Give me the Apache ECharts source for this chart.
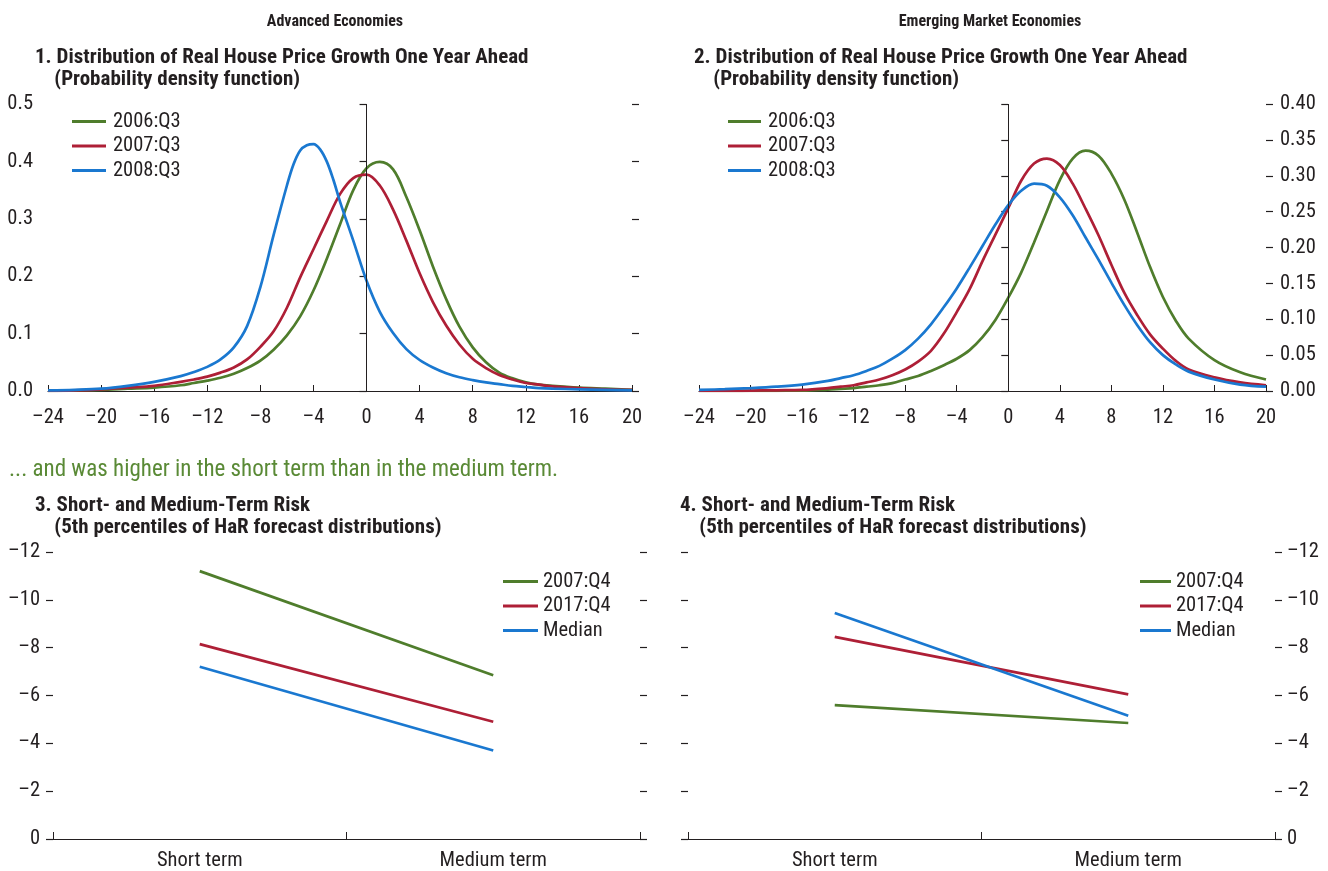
<!DOCTYPE html>
<html><head><meta charset="utf-8">
<script src="https://cdn.jsdelivr.net/npm/echarts@6/dist/echarts.min.js"></script>
<style>html,body{margin:0;padding:0;background:#fff}#c{width:1328px;height:871px}</style>
</head><body><div id="c"></div>
<script>
// ---------- DATA ----------
// Panel 1: Advanced Economies, PDF of real house price growth one year ahead
const aeX = [-24,-22,-20,-18,-16,-14,-13,-12,-11,-10,-9,-8,-7,-6,-5,-4,-3,-2,-1,0,1,2,3,4,5,6,7,8,9,10,11,12,13,14,16,18,20];
const ae2006 = [0,0.001,0.002,0.004,0.006,0.010,0.014,0.018,0.023,0.030,0.040,0.053,0.072,0.097,0.130,0.175,0.230,0.290,0.350,0.388,0.399,0.386,0.338,0.280,0.217,0.160,0.112,0.076,0.050,0.032,0.022,0.015,0.011,0.009,0.006,0.004,0.002];
const ae2007 = [0,0.001,0.003,0.006,0.009,0.016,0.020,0.025,0.032,0.041,0.055,0.077,0.104,0.145,0.198,0.247,0.296,0.343,0.371,0.377,0.358,0.316,0.262,0.205,0.155,0.114,0.081,0.056,0.040,0.028,0.020,0.014,0.011,0.008,0.005,0.003,0.002];
const ae2008X = [-24,-22,-20,-18,-16,-14,-13,-12,-11,-10,-9,-8,-7,-6,-5.5,-5,-4.5,-4,-3.5,-3,-2.5,-2,-1,0,1,2,3,4,5,6,7,8,9,10,11,12,13,14,16,18,20];
const ae2008 = [0.001,0.002,0.004,0.009,0.016,0.026,0.033,0.042,0.055,0.076,0.113,0.181,0.272,0.358,0.395,0.419,0.428,0.430,0.421,0.400,0.368,0.330,0.262,0.192,0.138,0.101,0.073,0.054,0.041,0.031,0.024,0.019,0.015,0.012,0.009,0.007,0.005,0.004,0.003,0.002,0.001];

// Panel 2: Emerging Market Economies
const emX = [-24,-22,-20,-18,-16,-14,-13,-12,-11,-10,-9,-8,-7,-6,-5,-4,-3,-2,-1,0,1,2,3,4,5,6,7,8,9,10,11,12,13,14,16,18,20];
const em2006 = [0,0,0,0.0003,0.0005,0.002,0.003,0.004,0.006,0.008,0.011,0.016,0.021,0.028,0.036,0.045,0.057,0.075,0.099,0.130,0.165,0.207,0.251,0.294,0.324,0.335,0.328,0.303,0.267,0.221,0.173,0.131,0.098,0.073,0.043,0.026,0.016];
const em2007 = [0,0,0.0005,0.001,0.0015,0.004,0.006,0.008,0.012,0.016,0.022,0.030,0.041,0.056,0.080,0.110,0.142,0.181,0.218,0.255,0.293,0.317,0.324,0.315,0.289,0.254,0.217,0.176,0.137,0.106,0.079,0.059,0.042,0.030,0.019,0.012,0.008];
const em2008 = [0.0015,0.0025,0.004,0.006,0.009,0.014,0.018,0.022,0.028,0.035,0.045,0.057,0.073,0.093,0.117,0.143,0.172,0.202,0.232,0.259,0.279,0.289,0.286,0.270,0.245,0.214,0.183,0.151,0.120,0.092,0.068,0.050,0.037,0.027,0.016,0.009,0.006];

// Panels 3 & 4: 5th percentiles of HaR forecast distributions
const horizons = ['Short term', 'Medium term'];
const ae07Q4 = [-11.2, -6.85];
const ae17Q4 = [-8.15, -4.9];
const aeMedian = [-7.2, -3.7];
const em07Q4 = [-5.6, -4.85];
const em17Q4 = [-8.45, -6.05];
const emMedian = [-9.45, -5.15];

const densityNames = ['2006:Q3', '2007:Q3', '2008:Q3'];
const riskNames = ['2007:Q4', '2017:Q4', 'Median'];

// ---------- STYLE ----------
const FONT = "'Liberation Sans Narrow','Arial Narrow','Roboto Condensed','Liberation Sans',sans-serif";
const GREEN = '#4f7d2c', RED = '#ae1f36', BLUE = '#1a78d0', INK = '#231f20';
const LBL = 20.5;
const dash = v => String(v).replace('-', '\u2013');
const pairs = (xs, ys) => xs.map((x, i) => [x, ys[i]]);

function xValAxis(gi) {
  return {
    type: 'value', gridIndex: gi, min: -24, max: 20, interval: 4,
    axisLine: { show: true, lineStyle: { color: INK, width: 1.2 } },
    axisTick: { show: true, inside: true, length: 6, lineStyle: { color: INK } },
    axisLabel: { fontFamily: FONT, fontSize: LBL, color: INK, margin: 16, formatter: v => dash(v) },
    splitLine: { show: false }
  };
}
function yAxisPair(gi, min, max, interval, labelSide, fmt, inverse, margin) {
  const base = {
    type: 'value', gridIndex: gi, min, max, interval, inverse: !!inverse,
    axisLine: { show: false },
    axisTick: { show: true, inside: false, length: 7, lineStyle: { color: INK, width: 1.2 } },
    splitLine: { show: false }
  };
  const mk = side => Object.assign({}, base, { position: side,
    axisLabel: { show: labelSide === side, fontFamily: FONT, fontSize: LBL, color: INK, margin, formatter: fmt } });
  return [mk('left'), mk('right')];
}
function catAxis(gi) {
  return {
    type: 'category', gridIndex: gi, data: horizons, boundaryGap: true,
    axisLine: { show: true, lineStyle: { color: INK, width: 1.2 } },
    axisTick: { show: true, inside: true, length: 7, lineStyle: { color: INK } },
    axisLabel: { fontFamily: FONT, fontSize: LBL, color: INK, margin: 11 }
  };
}
function lineSeries(name, color, data, xi, yi, extra) {
  return Object.assign({
    name, type: 'line', xAxisIndex: xi, yAxisIndex: yi, data,
    showSymbol: false, symbol: 'none', smooth: 0.35,
    lineStyle: { color, width: 2.7 }, itemStyle: { color }, silent: true, animation: false, z: 3
  }, extra || {});
}
const zeroLine = {
  silent: true, symbol: ['none', 'none'], label: { show: false },
  lineStyle: { color: INK, width: 1, type: 'solid' }, data: [{ xAxis: 0 }]
};
function legendAt(left, top, names, w, pad) {
  return {
    left, top, orient: 'vertical', data: names, icon: 'rect',
    itemWidth: w, itemHeight: 3, itemGap: 3.5, selectedMode: false,
    textStyle: { fontFamily: FONT, fontSize: LBL, color: INK, padding: [0, 0, 0, pad] }
  };
}

const titleStyle = { fontFamily: FONT, fontSize: 21, fontWeight: 'bold', color: INK, lineHeight: 22 };
const headStyle = { fontFamily: FONT, fontSize: 16, fontWeight: 'bold', color: INK, lineHeight: 22 };

const option = {
  animation: false,
  backgroundColor: '#fff',
  title: [
    { text: 'Advanced Economies', left: 330, top: 6, textAlign: 'center', textStyle: headStyle },
    { text: 'Emerging Market Economies', left: 985, top: 6, textAlign: 'center', textStyle: headStyle },
    { text: '1. Distribution of Real House Price Growth One Year Ahead\n    (Probability density function)', left: 30, top: 42, textStyle: titleStyle },
    { text: '2. Distribution of Real House Price Growth One Year Ahead\n    (Probability density function)', left: 689, top: 42, textStyle: titleStyle },
    { text: '... and was higher in the short term than in the medium term.', left: 4, top: 454,
      textStyle: { fontFamily: FONT, fontSize: 23, fontWeight: 'normal', color: '#5a8a36' } },
    { text: '3. Short- and Medium-Term Risk\n    (5th percentiles of HaR forecast distributions)', left: 30, top: 490, textStyle: titleStyle },
    { text: '4. Short- and Medium-Term Risk\n    (5th percentiles of HaR forecast distributions)', left: 675, top: 490, textStyle: titleStyle }
  ],
  legend: [
    legendAt(67, 106, densityNames, 34, 2),
    legendAt(723, 106, densityNames, 33, 2),
    legendAt(498, 566, riskNames, 35, 0),
    legendAt(1135, 566, riskNames, 31, 0)
  ],
  grid: [
    { left: 48, top: 104, width: 584, height: 287 },
    { left: 699, top: 104, width: 567, height: 287 },
    { left: 53, top: 552, width: 587, height: 288 },
    { left: 688, top: 552, width: 587, height: 288 }
  ],
  xAxis: [xValAxis(0), xValAxis(1), catAxis(2), catAxis(3)],
  yAxis: [
    ...yAxisPair(0, 0, 0.5, 0.1, 'left', v => v.toFixed(1), false, 15),
    ...yAxisPair(1, 0, 0.4, 0.05, 'right', v => v.toFixed(2), false, 14),
    ...yAxisPair(2, -12, 0, 2, 'left', v => dash(v), true, 13),
    ...yAxisPair(3, -12, 0, 2, 'right', v => dash(v), true, 12)
  ],
  series: [
    lineSeries('2006:Q3', GREEN, pairs(aeX, ae2006), 0, 0, { markLine: zeroLine }),
    lineSeries('2007:Q3', RED, pairs(aeX, ae2007), 0, 0),
    lineSeries('2008:Q3', BLUE, pairs(ae2008X, ae2008), 0, 0),
    lineSeries('2006:Q3', GREEN, pairs(emX, em2006), 1, 2, { markLine: zeroLine }),
    lineSeries('2007:Q3', RED, pairs(emX, em2007), 1, 2),
    lineSeries('2008:Q3', BLUE, pairs(emX, em2008), 1, 2),
    lineSeries('2007:Q4', GREEN, ae07Q4, 2, 4, { smooth: false }),
    lineSeries('2017:Q4', RED, ae17Q4, 2, 4, { smooth: false }),
    lineSeries('Median', BLUE, aeMedian, 2, 4, { smooth: false }),
    lineSeries('2007:Q4', GREEN, em07Q4, 3, 6, { smooth: false }),
    lineSeries('2017:Q4', RED, em17Q4, 3, 6, { smooth: false }),
    lineSeries('Median', BLUE, emMedian, 3, 6, { smooth: false })
  ]
};

const chart = echarts.init(document.getElementById('c'), null, { renderer: 'canvas' });
chart.setOption(option);
</script>
</body></html>
